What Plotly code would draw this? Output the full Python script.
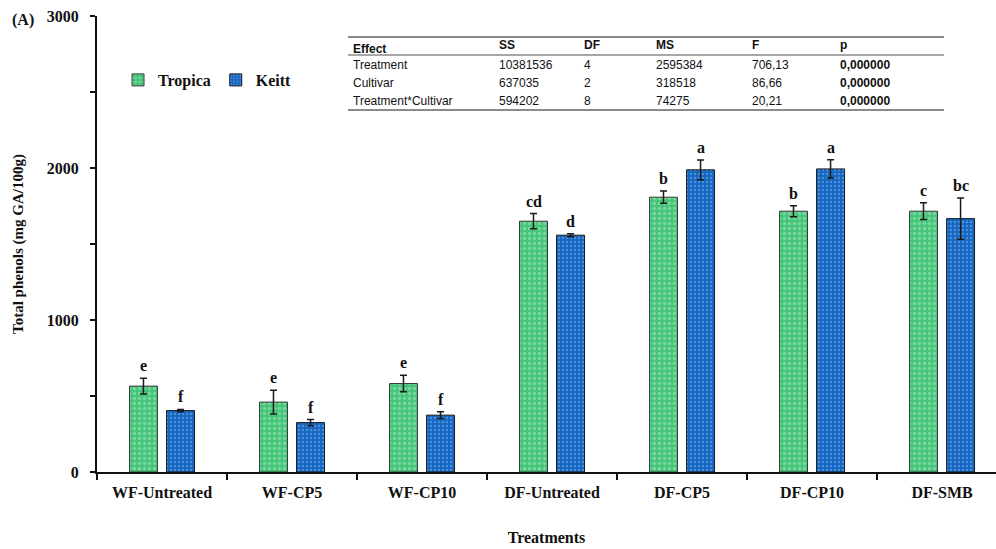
import plotly.graph_objects as go

# Total phenols per treatment and cultivar (mg GA/100g)
treatments = ["WF-Untreated", "WF-CP5", "WF-CP10", "DF-Untreated", "DF-CP5", "DF-CP10", "DF-SMB"]
tropica = [565, 460, 582, 1650, 1808, 1716, 1716]
tropica_err = [52, 78, 54, 50, 40, 36, 55]
keitt = [404, 325, 374, 1558, 1988, 1994, 1667]
keitt_err = [8, 20, 22, 10, 65, 60, 135]
tropica_letters = ["e", "e", "e", "cd", "b", "b", "c"]
keitt_letters = ["f", "f", "f", "d", "a", "a", "bc"]

# y-axis ticks (labelled every 1000, unlabelled halfway marks)
y_ticks = [0, 500, 1000, 1500, 2000, 2500, 3000]
y_tick_text = ["0", "", "1000", "", "2000", "", "3000"]

# ANOVA summary table
anova_header = ["Effect", "SS", "DF", "MS", "F", "p"]
anova_rows = [
    ["Treatment", "10381536", "4", "2595384", "706,13", "0,000000"],
    ["Cultivar", "637035", "2", "318518", "86,66", "0,000000"],
    ["Treatment*Cultivar", "594202", "8", "74275", "20,21", "0,000000"],
]

W, H = 996, 549
ML, MR, MT, MB = 97, 0, 16, 77
PW, PH = W - ML - MR, H - MT - MB


def px(x):
    return (x - ML) / PW


def py(y):
    return (H - MB - y) / PH


SERIF = "Liberation Serif"
SANS = "Liberation Sans"
GREEN, GREEN_DOT = "#45c47a", "#a9e9c0"
BLUE, BLUE_DOT = "#1466c2", "#86b6ee"

fig = go.Figure()
fig.add_trace(go.Bar(
    name="<b>Tropica</b>", x=treatments, y=tropica,
    error_y=dict(type="data", array=tropica_err, color="#1a1a1a", thickness=1.5, width=3.5),
    marker=dict(color=GREEN, line=dict(color="#3a3a3a", width=1),
                pattern=dict(shape=".", bgcolor=GREEN, fgcolor=GREEN_DOT, size=5, solidity=0.35)),
))
fig.add_trace(go.Bar(
    name="<b>Keitt</b>", x=treatments, y=keitt,
    error_y=dict(type="data", array=keitt_err, color="#1a1a1a", thickness=1.5, width=3.5),
    marker=dict(color=BLUE, line=dict(color="#1a1a1a", width=1),
                pattern=dict(shape=".", bgcolor=BLUE, fgcolor=BLUE_DOT, size=4, solidity=0.3)),
))

annotations = []
# significance letters above each error bar
off = 0.1425
for i, t in enumerate(treatments):
    for vals, errs, letters, dx in ((tropica, tropica_err, tropica_letters, -off),
                                    (keitt, keitt_err, keitt_letters, off)):
        annotations.append(dict(
            x=i + dx, y=vals[i] + errs[i], xref="x", yref="y", text=f"<b>{letters[i]}</b>",
            showarrow=False, yanchor="bottom", yshift=2,
            font=dict(family=SERIF, size=16, color="#111"),
        ))

# panel tag
annotations.append(dict(x=px(10), y=py(20), xref="paper", yref="paper", text="<b>(A)</b>",
                        showarrow=False, xanchor="left", yanchor="middle",
                        font=dict(family=SERIF, size=16, color="#111")))

# ANOVA table text
col_x = [351, 497, 582, 654, 750, 838]
header_y = [49, 45, 45, 45, 45, 45]
for cx, hy, h in zip(col_x, header_y, anova_header):
    annotations.append(dict(x=px(cx), y=py(hy), xref="paper", yref="paper", text=f"<b>{h}</b>",
                            showarrow=False, xanchor="left", yanchor="middle",
                            font=dict(family=SANS, size=12, color="#111")))
row_y = [65, 83, 101]
for ry, row in zip(row_y, anova_rows):
    for j, (cx, cell) in enumerate(zip(col_x, row)):
        txt = f"<b>{cell}</b>" if j == 5 else cell
        annotations.append(dict(x=px(cx), y=py(ry), xref="paper", yref="paper", text=txt,
                                showarrow=False, xanchor="left", yanchor="middle",
                                font=dict(family=SANS, size=12, color="#111")))

shapes = []
for yline, w in ((37, 2), (55, 1.5), (110, 2)):
    shapes.append(dict(type="line", xref="paper", yref="paper",
                       x0=px(348), x1=px(944), y0=py(yline), y1=py(yline),
                       line=dict(color="#8a8a8a", width=w)))

fig.update_layout(
    width=W, height=H,
    margin=dict(l=ML, r=MR, t=MT, b=MB, pad=0),
    paper_bgcolor="white", plot_bgcolor="white",
    barmode="group", bargap=0.43, bargroupgap=0.245,
    showlegend=True,
    legend=dict(orientation="h", x=px(118), y=py(80), xanchor="left", yanchor="middle",
                font=dict(family=SERIF, size=16, color="#111"), bgcolor="rgba(0,0,0,0)",
                itemwidth=30, tracegroupgap=0),
    annotations=annotations, shapes=shapes,
    font=dict(family=SERIF, color="#111"),
)
fig.update_xaxes(
    type="category", range=[-0.5, 6.415], tickson="boundaries",
    tickvals=treatments, ticktext=[f"<b>{t}</b>" for t in treatments],
    ticks="outside", ticklen=6, tickwidth=1.5, tickcolor="#111",
    showline=True, linecolor="#111", linewidth=2, showgrid=False, zeroline=False,
    tickfont=dict(family=SERIF, size=16, color="#111"), ticklabelstandoff=5,
    title=dict(text="<b>Treatments</b>", font=dict(family=SERIF, size=16, color="#111"), standoff=32),
)
fig.update_yaxes(
    range=[0, 3000], tickvals=y_ticks,
    ticktext=[f"<b>{t}</b>" if t else "" for t in y_tick_text],
    ticks="outside", ticklen=5, tickwidth=1.5, tickcolor="#111",
    showline=True, linecolor="#111", linewidth=2, showgrid=False, zeroline=False,
    tickfont=dict(family=SERIF, size=16, color="#111"), ticklabelstandoff=8,
    title=dict(text="<b>Total phenols (mg GA/100g)</b>", font=dict(family=SERIF, size=15, color="#111"), standoff=20),
)

fig.write_html("out.html")
